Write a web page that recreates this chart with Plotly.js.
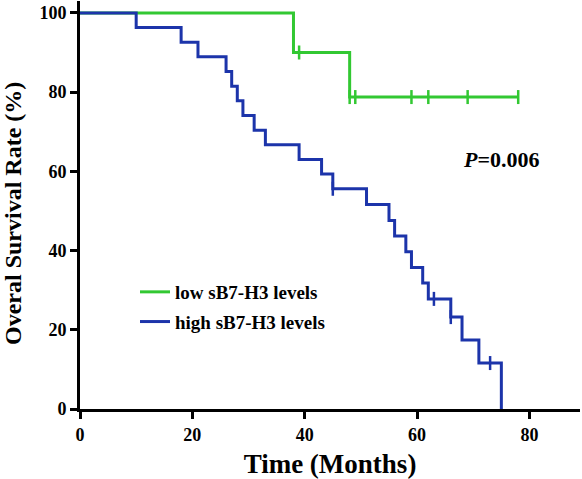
<!DOCTYPE html>
<html>
<head>
<meta charset="utf-8">
<script src="https://cdn.plot.ly/plotly-3.0.1.min.js"></script>
<style>html,body{margin:0;padding:0;background:#fff;}#chart{width:582px;height:479px;}</style>
</head>
<body>
<div id="chart"></div>
<script>
// Low sB7-H3 group (Kaplan-Meier steps)
var lowTime = [0, 38, 48, 78];
var lowSurv = [100, 90, 78.75, 78.75];
var lowCensorTime = [39, 48, 49, 59, 62, 69, 78];
var lowCensorSurv = [90, 78.75, 78.75, 78.75, 78.75, 78.75, 78.75];

// High sB7-H3 group
var highTime = [0, 10, 18, 21, 26, 27, 28, 29, 31, 33, 39, 43, 45, 51, 55, 56, 58, 59, 61, 62, 66, 68, 71, 75];
var highSurv = [100, 96.3, 92.6, 88.9, 85.2, 81.5, 77.8, 74.1, 70.4, 66.7, 63.0, 59.3, 55.6, 51.6, 47.6, 43.7, 39.7, 35.7, 31.8, 27.8, 23.2, 17.4, 11.6, 0];
var highCensorTime = [45, 63, 66, 73];
var highCensorSurv = [55.6, 27.8, 23.2, 11.6];

var xTicks = [0, 20, 40, 60, 80];
var yTicks = [0, 20, 40, 60, 80, 100];

var green = 'rgb(50,200,50)';
var blue = 'rgb(28,52,170)';
var FONT = 'Liberation Serif, Times New Roman, serif';

var data = [
  {x: lowTime, y: lowSurv, type: 'scatter', mode: 'lines', line: {shape: 'hv', color: green, width: 3},
   name: 'low sB7-H3 levels', legendgroup: 'low'},
  {x: highTime, y: highSurv, type: 'scatter', mode: 'lines', line: {shape: 'hv', color: blue, width: 3},
   name: 'high sB7-H3 levels', legendgroup: 'high'},
  {x: lowCensorTime, y: lowCensorSurv, type: 'scatter', mode: 'markers', showlegend: false, legendgroup: 'low',
   marker: {symbol: 'line-ns', size: 10, line: {color: green, width: 2.5}}},
  {x: highCensorTime, y: highCensorSurv, type: 'scatter', mode: 'markers', showlegend: false, legendgroup: 'high',
   marker: {symbol: 'line-ns', size: 10, line: {color: blue, width: 2.5}}}
];

var axisCommon = {
  showline: true, linecolor: 'black', linewidth: 3,
  ticks: 'outside', ticklen: 7, tickwidth: 3, tickcolor: 'black',
  showgrid: false, zeroline: false,
  tickfont: {family: FONT, size: 18, color: 'black', weight: 'bold'}
};

var layout = {
  width: 582, height: 479,
  margin: {l: 80, r: 2, t: 1, b: 70},
  paper_bgcolor: 'white', plot_bgcolor: 'white',
  showlegend: true,
  legend: {x: 0.11, y: 0.25, xanchor: 'left', yanchor: 'middle', traceorder: 'grouped', tracegroupgap: 2,
    font: {family: FONT, size: 19, color: 'black', weight: 'bold'}, bgcolor: 'rgba(0,0,0,0)'},
  xaxis: Object.assign({}, axisCommon, {
    range: [0, 89], tickvals: xTicks, ticktext: xTicks.map(String),
    title: {text: 'Time (Months)', font: {family: FONT, size: 27, color: 'black', weight: 'bold'}, standoff: 11}
  }),
  yaxis: Object.assign({}, axisCommon, {
    range: [0, 103], tickvals: yTicks, ticktext: yTicks.map(String)
  }),
  annotations: [
    {x: 75, y: 63, xref: 'x', yref: 'y', text: '<b><i>P</i>=0.006</b>', showarrow: false,
     font: {family: FONT, size: 22, color: 'black'}},
    {x: -0.134, y: 0.478, xref: 'paper', yref: 'paper', xanchor: 'center', yanchor: 'middle',
     text: '<b>Overal Survival Rate (%)</b>', textangle: -90, showarrow: false,
     font: {family: FONT, size: 24, color: 'black'}}
  ]
};

Plotly.newPlot('chart', data, layout, {displayModeBar: false, staticPlot: true});
</script>
</body>
</html>
